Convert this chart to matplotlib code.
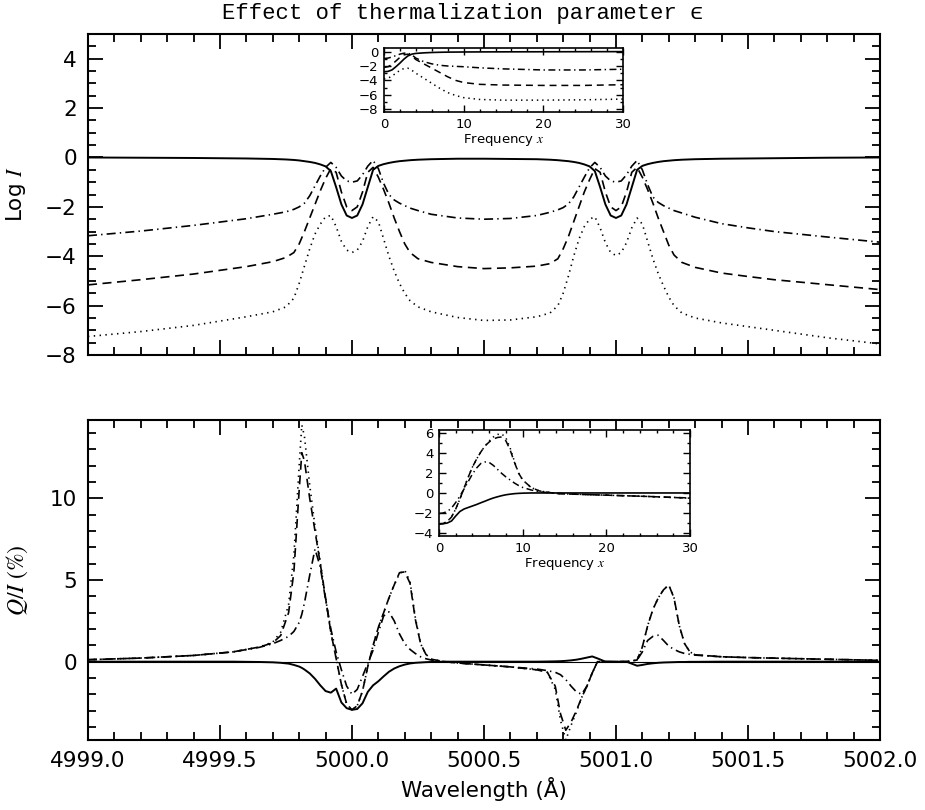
import numpy as np
import matplotlib
matplotlib.use("Agg")
import matplotlib.pyplot as plt
from matplotlib.ticker import MultipleLocator, FormatStrFormatter

plt.rcParams["font.family"] = ["DejaVu Sans"]
plt.rcParams["mathtext.fontset"] = "stix"
plt.rcParams["lines.scale_dashes"] = False

# ---- top panel: log intensity vs wavelength ----
wl_top = [4999.0, 4999.2, 4999.4, 4999.6, 4999.7, 4999.75, 4999.78, 4999.8, 4999.82, 4999.84,
          4999.86, 4999.88, 4999.9, 4999.92, 4999.94, 4999.96, 4999.98, 5000.0, 5000.02, 5000.04,
          5000.06, 5000.08, 5000.1, 5000.12, 5000.14, 5000.16, 5000.18, 5000.2, 5000.22, 5000.25,
          5000.3, 5000.4, 5000.5,
          5000.6, 5000.7, 5000.75, 5000.78, 5000.8, 5000.82, 5000.84, 5000.86, 5000.88, 5000.9,
          5000.92, 5000.94, 5000.96, 5000.98, 5001.0, 5001.02, 5001.04, 5001.06, 5001.08, 5001.1,
          5001.12, 5001.14, 5001.16, 5001.18, 5001.2, 5001.22, 5001.25, 5001.3, 5001.4, 5001.5,
          5001.6, 5001.8, 5002.0]

logI_solid = [0.0, -0.01, -0.02, -0.04, -0.06, -0.08, -0.1, -0.12, -0.15, -0.18,
              -0.22, -0.28, -0.36, -0.55, -1.2, -1.9, -2.35, -2.45, -2.35, -1.9,
              -1.2, -0.5, -0.34, -0.27, -0.22, -0.18, -0.15, -0.13, -0.11, -0.09,
              -0.07, -0.05, -0.05,
              -0.06, -0.07, -0.09, -0.11, -0.13, -0.15, -0.18, -0.22, -0.28, -0.36,
              -0.55, -1.2, -1.9, -2.35, -2.45, -2.35, -1.9, -1.2, -0.5, -0.34,
              -0.27, -0.22, -0.18, -0.15, -0.13, -0.11, -0.09, -0.07, -0.05, -0.04,
              -0.03, -0.01, 0.0]

logI_dashdot = [-3.17, -2.98, -2.75, -2.48, -2.3, -2.2, -2.1, -2.0, -1.85, -1.55,
                -1.15, -0.75, -0.4, -0.2, -0.4, -0.75, -0.95, -1.0, -0.95, -0.7,
                -0.35, -0.12, -0.45, -1.05, -1.5, -1.72, -1.85, -1.95, -2.05, -2.15,
                -2.3, -2.45, -2.5,
                -2.47, -2.35, -2.22, -2.12, -2.03, -1.88, -1.6, -1.2, -0.8, -0.42,
                -0.2, -0.4, -0.75, -0.95, -1.0, -0.95, -0.7, -0.35, -0.12, -0.5,
                -1.1, -1.6, -1.82, -1.95, -2.05, -2.15, -2.25, -2.42, -2.68, -2.85,
                -3.0, -3.22, -3.43]

logI_dashed = [-5.16, -4.95, -4.72, -4.42, -4.22, -4.05, -3.85, -3.5, -3.0, -2.45,
               -1.9, -1.35, -0.85, -0.45, -0.6, -1.4, -2.0, -2.15, -2.0, -1.4,
               -0.6, -0.4, -0.8, -1.3, -1.85, -2.45, -3.0, -3.5, -3.85, -4.1,
               -4.25, -4.42, -4.5,
               -4.47, -4.4, -4.3, -4.1, -3.7, -3.2, -2.6, -2.0, -1.4, -0.9,
               -0.45, -0.6, -1.4, -2.0, -2.15, -2.0, -1.4, -0.6, -0.4, -0.8,
               -1.3, -1.85, -2.45, -3.0, -3.55, -3.95, -4.25, -4.45, -4.68, -4.82,
               -4.95, -5.15, -5.35]

logI_dotted = [-7.25, -7.05, -6.8, -6.45, -6.25, -6.05, -5.7, -5.1, -4.4, -3.7,
               -3.1, -2.7, -2.4, -2.35, -2.8, -3.4, -3.75, -3.85, -3.75, -3.4,
               -2.8, -2.4, -2.6, -3.3, -4.0, -4.6, -5.1, -5.5, -5.8, -6.05,
               -6.25, -6.48, -6.6,
               -6.58, -6.45, -6.3, -6.0, -5.5, -4.8, -4.0, -3.3, -2.8, -2.5,
               -2.4, -2.85, -3.45, -3.85, -3.97, -3.85, -3.45, -2.85, -2.45, -2.7,
               -3.4, -4.1, -4.7, -5.2, -5.65, -6.0, -6.3, -6.5, -6.7, -6.85,
               -7.0, -7.3, -7.55]

# top inset: log I vs frequency x
freq_a = [0, 0.5, 1, 1.5, 2, 2.5, 3, 3.5, 4, 5, 6, 7, 8, 9, 10, 12, 15, 20, 25, 30]
ins_a_solid = [-2.8, -2.75, -2.55, -2.1, -1.6, -1.05, -0.6, -0.35, -0.25, -0.17,
               -0.12, -0.09, -0.07, -0.06, -0.05, -0.04, -0.03, -0.02, -0.01, 0.0]
ins_a_dashdot = [-0.95, -0.9, -0.75, -0.55, -0.35, -0.22, -0.2, -0.45, -0.9, -1.4,
                 -1.7, -1.9, -2.0, -2.05, -2.1, -2.25, -2.4, -2.55, -2.55, -2.45]
ins_a_dashed = [-2.2, -2.1, -1.8, -1.3, -0.8, -0.45, -0.35, -0.6, -1.1, -1.7,
                -2.3, -2.9, -3.5, -4.0, -4.3, -4.55, -4.65, -4.7, -4.7, -4.6]
ins_a_dotted = [-3.8, -3.7, -3.4, -3.0, -2.6, -2.35, -2.3, -2.6, -3.0, -3.7,
                -4.4, -5.1, -5.7, -6.1, -6.4, -6.65, -6.75, -6.75, -6.7, -6.6]

# ---- bottom panel: Q/I (%) vs wavelength ----
wl_bot = [4999.0, 4999.2, 4999.4, 4999.55, 4999.65, 4999.7, 4999.73, 4999.76, 4999.78, 4999.8,
          4999.81, 4999.82, 4999.84, 4999.86, 4999.88, 4999.9, 4999.92, 4999.94, 4999.96, 4999.98,
          5000.0, 5000.02, 5000.04, 5000.06, 5000.08, 5000.1, 5000.12, 5000.14, 5000.16, 5000.18,
          5000.2, 5000.22, 5000.24, 5000.26, 5000.28, 5000.3, 5000.35, 5000.4, 5000.5, 5000.6,
          5000.7, 5000.74, 5000.77, 5000.79, 5000.81, 5000.83, 5000.85, 5000.87, 5000.89, 5000.91,
          5000.93, 5000.96, 5001.0, 5001.04, 5001.08, 5001.1, 5001.12, 5001.14, 5001.16, 5001.18,
          5001.2, 5001.22, 5001.24, 5001.26, 5001.28, 5001.3, 5001.4, 5001.5, 5001.7, 5002.0]

qi_solid = [0.0, 0.0, 0.0, 0.0, -0.02, -0.04, -0.07, -0.12, -0.2, -0.3,
            -0.38, -0.48, -0.72, -1.05, -1.45, -1.8, -1.9, -1.65, -2.5, -2.85,
            -2.95, -2.9, -2.55, -1.85, -1.45, -1.2, -0.9, -0.62, -0.42, -0.28,
            -0.18, -0.11, -0.07, -0.05, -0.03, -0.02, 0.0, 0.0, 0.0, 0.0,
            0.0, 0.01, 0.02, 0.03, 0.05, 0.08, 0.12, 0.18, 0.25, 0.32,
            0.2, 0.0, 0.0, 0.0, -0.25, -0.2, -0.14, -0.1, -0.07, -0.05,
            -0.04, -0.03, -0.02, -0.02, -0.01, -0.01, 0.0, 0.0, 0.0, 0.0]

qi_dashdot = [0.12, 0.22, 0.38, 0.6, 0.88, 1.1, 1.3, 1.55, 1.85, 2.4,
              2.9, 3.6, 5.3, 6.9, 5.8, 3.8, 2.0, 0.6, -0.5, -1.5,
              -2.0, -1.7, -0.9, -0.1, 0.7, 1.8, 2.8, 3.05, 2.5, 1.7,
              1.1, 0.75, 0.5, 0.3, 0.18, 0.1, 0.0, -0.08, -0.2, -0.32,
              -0.45, -0.55, -0.65, -0.8, -1.1, -1.5, -1.85, -2.0, -1.5, -0.7,
              0.0, 0.0, 0.0, 0.0, 0.1, 0.6, 1.3, 1.55, 1.62, 1.3,
              0.95, 0.75, 0.6, 0.5, 0.45, 0.4, 0.3, 0.25, 0.18, 0.08]

qi_dashed = [0.12, 0.22, 0.38, 0.6, 0.9, 1.15, 1.6, 3.0, 5.5, 10.5,
             12.8, 12.3, 10.0, 8.0, 6.0, 3.9, 1.8, 0.2, -1.4, -2.6,
             -2.95, -2.7, -1.8, -0.3, 1.0, 2.1, 3.0, 3.9, 4.7, 5.45,
             5.5, 4.8, 2.6, 1.1, 0.45, 0.15, 0.0, -0.08, -0.2, -0.32,
             -0.5, -0.65, -1.5, -3.2, -4.2, -3.7, -3.0, -2.2, -1.5, -0.7,
             0.0, 0.0, 0.0, 0.0, 0.1, 0.9, 2.2, 3.2, 3.9, 4.4,
             4.7, 3.9, 2.2, 1.1, 0.6, 0.42, 0.3, 0.25, 0.18, 0.08]

qi_dotted = [0.12, 0.22, 0.38, 0.6, 0.9, 1.2, 1.8, 3.5, 6.5, 12.0,
             14.5, 13.8, 10.8, 8.3, 6.1, 3.9, 1.8, 0.2, -1.4, -2.6,
             -2.95, -2.7, -1.8, -0.3, 1.0, 2.1, 3.0, 3.9, 4.7, 5.4,
             5.6, 4.9, 2.7, 1.1, 0.45, 0.15, 0.0, -0.08, -0.2, -0.32,
             -0.5, -0.65, -1.7, -3.6, -4.8, -3.9, -3.1, -2.2, -1.5, -0.7,
             0.0, 0.0, 0.0, 0.0, 0.1, 0.9, 2.2, 3.2, 3.9, 4.4,
             4.7, 3.9, 2.2, 1.1, 0.6, 0.42, 0.3, 0.25, 0.18, 0.08]

# bottom inset: Q/I vs frequency x
freq_b = [0, 0.5, 1, 1.5, 2, 2.5, 3, 3.5, 4, 4.5, 5, 5.5, 6, 6.5, 7, 7.5, 8, 8.5, 9, 9.5,
          10, 11, 12, 14, 16, 20, 25, 30]
ins_b_solid = [-3.1, -3.08, -3.0, -2.8, -2.3, -1.85, -1.6, -1.45, -1.3, -1.15,
               -0.98, -0.82, -0.65, -0.5, -0.38, -0.27, -0.18, -0.12, -0.07, -0.04,
               -0.02, 0.0, 0.0, 0.0, 0.0, 0.0, 0.0, 0.0]
ins_b_dashdot = [-2.05, -2.0, -1.85, -1.5, -0.95, -0.3, 0.4, 1.15, 1.9, 2.5,
                 2.95, 3.1, 3.05, 2.75, 2.35, 1.95, 1.6, 1.3, 1.0, 0.75,
                 0.55, 0.3, 0.12, -0.05, -0.12, -0.22, -0.35, -0.5]
ins_b_dashed = [-3.1, -3.05, -2.85, -2.4, -1.6, -0.6, 0.5, 1.6, 2.6, 3.4,
                4.1, 4.7, 5.1, 5.4, 5.55, 5.6, 5.2, 4.3, 3.1, 2.0,
                1.3, 0.55, 0.2, -0.05, -0.12, -0.22, -0.35, -0.52]
ins_b_dotted = [-3.1, -3.05, -2.85, -2.4, -1.6, -0.6, 0.5, 1.6, 2.6, 3.4,
                4.1, 4.7, 5.2, 5.6, 5.85, 5.9, 5.5, 4.5, 3.2, 2.0,
                1.3, 0.55, 0.2, -0.05, -0.12, -0.22, -0.35, -0.52]

DOT = (0, (1.0, 3.2))
DASH = (0, (6.5, 4.0))
DASHDOT = (0, (6.5, 3.0, 1.0, 3.0))
LW = 1.2


def style_axes(ax, xmaj, xmin, ymaj, ymin, big=True):
    ax.xaxis.set_major_locator(MultipleLocator(xmaj))
    ax.xaxis.set_minor_locator(MultipleLocator(xmin))
    ax.yaxis.set_major_locator(MultipleLocator(ymaj))
    ax.yaxis.set_minor_locator(MultipleLocator(ymin))
    if big:
        ax.tick_params(which="major", direction="in", length=11, width=1.3,
                       top=True, right=True, labelsize=15.5, pad=8)
        ax.tick_params(which="minor", direction="in", length=5.5, width=1.3,
                       top=True, right=True)
        lw = 1.5
    else:
        ax.tick_params(which="major", direction="in", length=5, width=1.0,
                       top=True, right=True, labelsize=9.5, pad=4)
        ax.tick_params(which="minor", direction="in", length=2.5, width=1.0,
                       top=True, right=True)
        lw = 1.2
    for s in ax.spines.values():
        s.set_linewidth(lw)


fig = plt.figure(figsize=(9.25, 8.1), dpi=100)

# top panel
ax1 = fig.add_axes([0.0951, 0.5617, 0.8562, 0.3963])
ax1.plot(wl_top, logI_solid, color="black", lw=1.4, ls="-")
ax1.plot(wl_top, logI_dashdot, color="black", lw=LW, ls=DASHDOT)
ax1.plot(wl_top, logI_dashed, color="black", lw=LW, ls=DASH)
ax1.plot(wl_top, logI_dotted, color="black", lw=LW, ls=DOT)
ax1.set_xlim(4999.0, 5002.0)
ax1.set_ylim(-8.0, 5.0)
style_axes(ax1, 0.5, 0.1, 2, 0.5)
ax1.tick_params(axis="x", labelbottom=False)
ax1.set_ylabel("Log $I$", fontsize=15.5, labelpad=12)

fig.text(0.5, 1 - 13 / 810, "Effect of thermalization parameter \u03f5",
         ha="center", va="center", fontsize=16,
         family=["Liberation Mono", "DejaVu Sans Mono", "DejaVu Sans"])

# top inset
ax1i = fig.add_axes([0.4151, 0.8617, 0.2584, 0.079])
ax1i.plot(freq_a, ins_a_solid, color="black", lw=1.2, ls="-")
ax1i.plot(freq_a, ins_a_dashdot, color="black", lw=1.1, ls=(0, (5, 2.5, 1, 2.5)))
ax1i.plot(freq_a, ins_a_dashed, color="black", lw=1.1, ls=(0, (5, 3.5)))
ax1i.plot(freq_a, ins_a_dotted, color="black", lw=1.1, ls=(0, (1, 2.8)))
ax1i.set_xlim(0, 30)
ax1i.set_ylim(-8.4, 0.5)
style_axes(ax1i, 10, 2, 2, 1, big=False)
ax1i.set_xlabel("Frequency $x$", fontsize=9.5, labelpad=1)

# bottom panel
ax2 = fig.add_axes([0.0951, 0.0864, 0.8562, 0.395])
ax2.axhline(0, color="black", lw=0.8)
ax2.plot(wl_bot, qi_solid, color="black", lw=1.4, ls="-")
ax2.plot(wl_bot, qi_dashdot, color="black", lw=LW, ls=DASHDOT)
ax2.plot(wl_bot, qi_dashed, color="black", lw=LW, ls=DASH)
ax2.plot(wl_bot, qi_dotted, color="black", lw=LW, ls=DOT)
ax2.set_xlim(4999.0, 5002.0)
ax2.set_ylim(-4.8, 14.8)
style_axes(ax2, 0.5, 0.1, 5, 1)
ax2.xaxis.set_major_formatter(FormatStrFormatter("%.1f"))
ax2.set_xlabel("Wavelength (Å)", fontsize=15.5, labelpad=4)
ax2.set_ylabel("$Q/I$ (%)", fontsize=17, labelpad=14,
               family=["STIXGeneral", "DejaVu Serif"])

# bottom inset
ax2i = fig.add_axes([0.4746, 0.3383, 0.2714, 0.1309])
ax2i.plot(freq_b, ins_b_solid, color="black", lw=1.2, ls="-")
ax2i.plot(freq_b, ins_b_dashdot, color="black", lw=1.1, ls=(0, (5, 2.5, 1, 2.5)))
ax2i.plot(freq_b, ins_b_dashed, color="black", lw=1.1, ls=(0, (5, 3.5)))
ax2i.plot(freq_b, ins_b_dotted, color="black", lw=1.1, ls=(0, (1, 2.8)))
ax2i.set_xlim(0, 30)
ax2i.set_ylim(-4.3, 6.3)
style_axes(ax2i, 10, 2, 2, 1, big=False)
ax2i.set_xlabel("Frequency $x$", fontsize=9.5, labelpad=1)

fig.savefig("out.png", dpi=100)
